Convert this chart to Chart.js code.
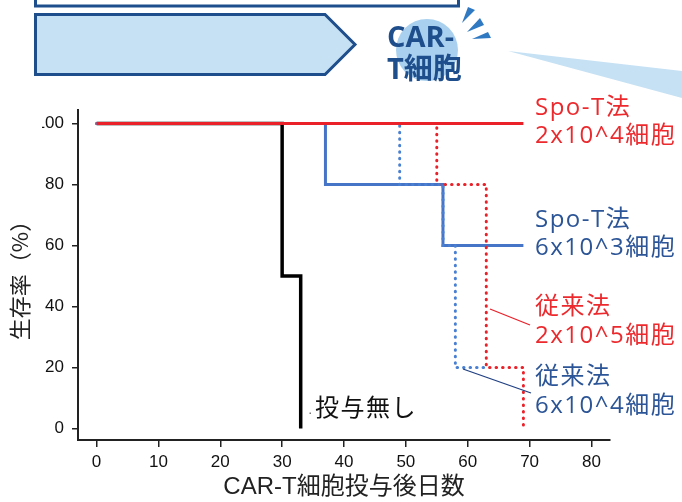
<!DOCTYPE html>
<html>
<head>
<meta charset="utf-8">
<script src="https://cdn.jsdelivr.net/npm/chart.js@4/dist/chart.umd.min.js"></script>
<style>
  html, body { margin: 0; padding: 0; background: #fff; }
  #wrap { width: 682px; height: 502px; }
</style>
</head>
<body>
<div id="wrap"><canvas id="survivalChart" width="682" height="502"></canvas></div>
<script>
// tick labels
const xTicks = [0, 10, 20, 30, 40, 50, 60, 70, 80];
const yTicks = [0, 20, 40, 60, 80, 100];

// day of each step and survival (%) from that day on
const noTreatDays = [0, 30, 33];
const noTreatSurv = [100, 50, 0];
const spoT4Days = [0, 69];
const spoT4Surv = [100, 100];
const spoT3Days = [0, 37, 56, 69];
const spoT3Surv = [100, 80, 60, 60];
const conv5Days = [0, 55, 63, 69];
const conv5Surv = [100, 80, 20, 0];
const conv4Days = [0, 49, 56, 58, 63];
const conv4Surv = [100, 80, 60, 20, 20];

const seriesNames = ['投与無し', 'Spo-T法 2x10^4細胞', 'Spo-T法 6x10^3細胞', '従来法 2x10^5細胞', '従来法 6x10^4細胞'];

const RED = '#ea2129';
const BLUE = '#4674c6';
const BLUE_DOT = '#4a80d2';
const RED_TEXT = '#ec2a2e';
const BLUE_TEXT = '#2c5597';
const NAVY = '#1f4e8c';

function toPoints(days, surv) {
    return days.map((d, i) => ({ x: d, y: surv[i] }));
}

// decoration above the plot and labels at the right
const overlay = {
    id: 'overlay',
    beforeDraw(chart) {
        const ctx = chart.ctx;
        ctx.save();
        ctx.fillStyle = '#fff';
        ctx.fillRect(0, 0, chart.width, chart.height);

        // box cut at the top
        ctx.strokeStyle = NAVY;
        ctx.lineWidth = 3;
        ctx.strokeRect(35.5, -20, 423, 26);

        // arrow
        ctx.beginPath();
        ctx.moveTo(35.5, 14.5);
        ctx.lineTo(325, 14.5);
        ctx.lineTo(355, 44.5);
        ctx.lineTo(325, 74.5);
        ctx.lineTo(35.5, 74.5);
        ctx.closePath();
        ctx.fillStyle = '#c6e1f4';
        ctx.fill();
        ctx.lineJoin = 'miter';
        ctx.stroke();

        // wedge to the right
        ctx.beginPath();
        ctx.moveTo(508, 51);
        ctx.lineTo(682, 71);
        ctx.lineTo(682, 98);
        ctx.closePath();
        ctx.fillStyle = '#c6e1f4';
        ctx.fill();

        // circle behind the text
        ctx.beginPath();
        ctx.arc(427, 50, 31, 0, Math.PI * 2);
        ctx.fillStyle = '#a9d1ef';
        ctx.fill();

        // rays
        ctx.fillStyle = '#2f78c2';
        [[[462, 23], [468, 7], [475, 10]],
         [[467, 32], [480, 18], [484, 25]],
         [[472, 39], [488, 32], [491, 38]]].forEach(tri => {
            ctx.beginPath();
            ctx.moveTo(tri[0][0], tri[0][1]);
            ctx.lineTo(tri[1][0], tri[1][1]);
            ctx.lineTo(tri[2][0], tri[2][1]);
            ctx.closePath();
            ctx.fill();
        });

        ctx.fillStyle = NAVY;
        ctx.font = 'bold 29px "Open Sans", "Noto Sans CJK JP"';
        ctx.textBaseline = 'alphabetic';
        ctx.textAlign = 'left';
        ctx.fillText('CAR-', 387, 47);
        ctx.fillText('T細胞', 387, 79);
        ctx.restore();
    },
    afterDraw(chart) {
        const ctx = chart.ctx;
        ctx.save();
        // hide the "1" of 100, as in the source figure
        ctx.fillStyle = '#fff';
        ctx.fillRect(0, 112, 42, 24);

        ctx.font = '24px "Open Sans", "Noto Sans CJK JP"';
        ctx.letterSpacing = '1.5px';
        ctx.textBaseline = 'middle';
        ctx.textAlign = 'left';
        const labels = [
            [RED_TEXT, 'Spo-T法', 108], [RED_TEXT, '2x10^4細胞', 136],
            [BLUE_TEXT, 'Spo-T法', 220], [BLUE_TEXT, '6x10^3細胞', 248],
            [RED_TEXT, '従来法', 307], [RED_TEXT, '2x10^5細胞', 336],
            [BLUE_TEXT, '従来法', 377], [BLUE_TEXT, '6x10^4細胞', 406]
        ];
        labels.forEach(l => {
            ctx.fillStyle = l[0];
            ctx.fillText(l[1], 535, l[2]);
        });
        ctx.fillStyle = '#111';
        ctx.fillText(seriesNames[0], 315, 409);

        // leader lines
        ctx.lineWidth = 1.3;
        ctx.strokeStyle = RED;
        ctx.beginPath();
        ctx.moveTo(490, 309);
        ctx.lineTo(530, 325);
        ctx.stroke();
        ctx.strokeStyle = '#1f3f82';
        ctx.beginPath();
        ctx.moveTo(463, 369);
        ctx.lineTo(531, 393);
        ctx.stroke();
        ctx.fillStyle = '#777';
        ctx.fillRect(309.5, 412.5, 1.5, 1.5);
        ctx.restore();
    }
};

const dotted = { borderDash: [0.5, 6], borderCapStyle: 'round', borderWidth: 3 };

new Chart(document.getElementById('survivalChart'), {
    type: 'line',
    data: {
        datasets: [
            { label: seriesNames[1], data: toPoints(spoT4Days, spoT4Surv), borderColor: RED, borderWidth: 3, order: -1 },
            { label: seriesNames[4], data: toPoints(conv4Days, conv4Surv), borderColor: BLUE_DOT, order: 0, ...dotted },
            { label: seriesNames[3], data: toPoints(conv5Days, conv5Surv), borderColor: RED, order: 1, ...dotted },
            { label: seriesNames[2], data: toPoints(spoT3Days, spoT3Surv), borderColor: BLUE, borderWidth: 3, order: 2 },
            { label: seriesNames[0], data: toPoints(noTreatDays, noTreatSurv), borderColor: '#000', borderWidth: 3.5, order: 4 }
        ]
    },
    options: {
        responsive: false,
        animation: false,
        elements: {
            point: { radius: 0 },
            line: { stepped: 'before', fill: false, tension: 0 }
        },
        layout: { padding: { top: 110, right: 72, left: 0, bottom: 0 } },
        plugins: { legend: { display: false }, tooltip: { enabled: false } },
        scales: {
            x: {
                type: 'linear',
                min: -3,
                max: 83,
                afterFit: s => { s.height = 62; },
                afterBuildTicks: s => { s.ticks = xTicks.map(v => ({ value: v })); },
                grid: { drawOnChartArea: false, drawTicks: true, tickLength: 7, color: '#222', lineWidth: 1.5 },
                border: { display: true, color: '#222', width: 2 },
                ticks: { color: '#111', padding: 5, font: { family: '"Liberation Sans"', size: 17 } },
                title: {
                    display: true,
                    text: 'CAR-T細胞投与後日数',
                    color: '#222',
                    padding: 0,
                    font: { family: '"Liberation Sans", "Noto Sans CJK JP"', size: 24 }
                }
            },
            y: {
                type: 'linear',
                min: -3.8,
                max: 104.4,
                afterFit: s => { s.width = 78; },
                afterBuildTicks: s => { s.ticks = yTicks.map(v => ({ value: v })); },
                grid: { drawOnChartArea: false, drawTicks: true, tickLength: 6, color: '#222', lineWidth: 1.5 },
                border: { display: true, color: '#222', width: 2 },
                ticks: { color: '#111', padding: 8, font: { family: '"Liberation Sans"', size: 17 } },
                title: {
                    display: true,
                    text: '生存率（%）',
                    color: '#222',
                    padding: { top: 6, bottom: 0 },
                    font: { family: '"Noto Sans CJK JP"', size: 22 }
                }
            }
        }
    },
    plugins: [overlay]
});
</script>
</body>
</html>
